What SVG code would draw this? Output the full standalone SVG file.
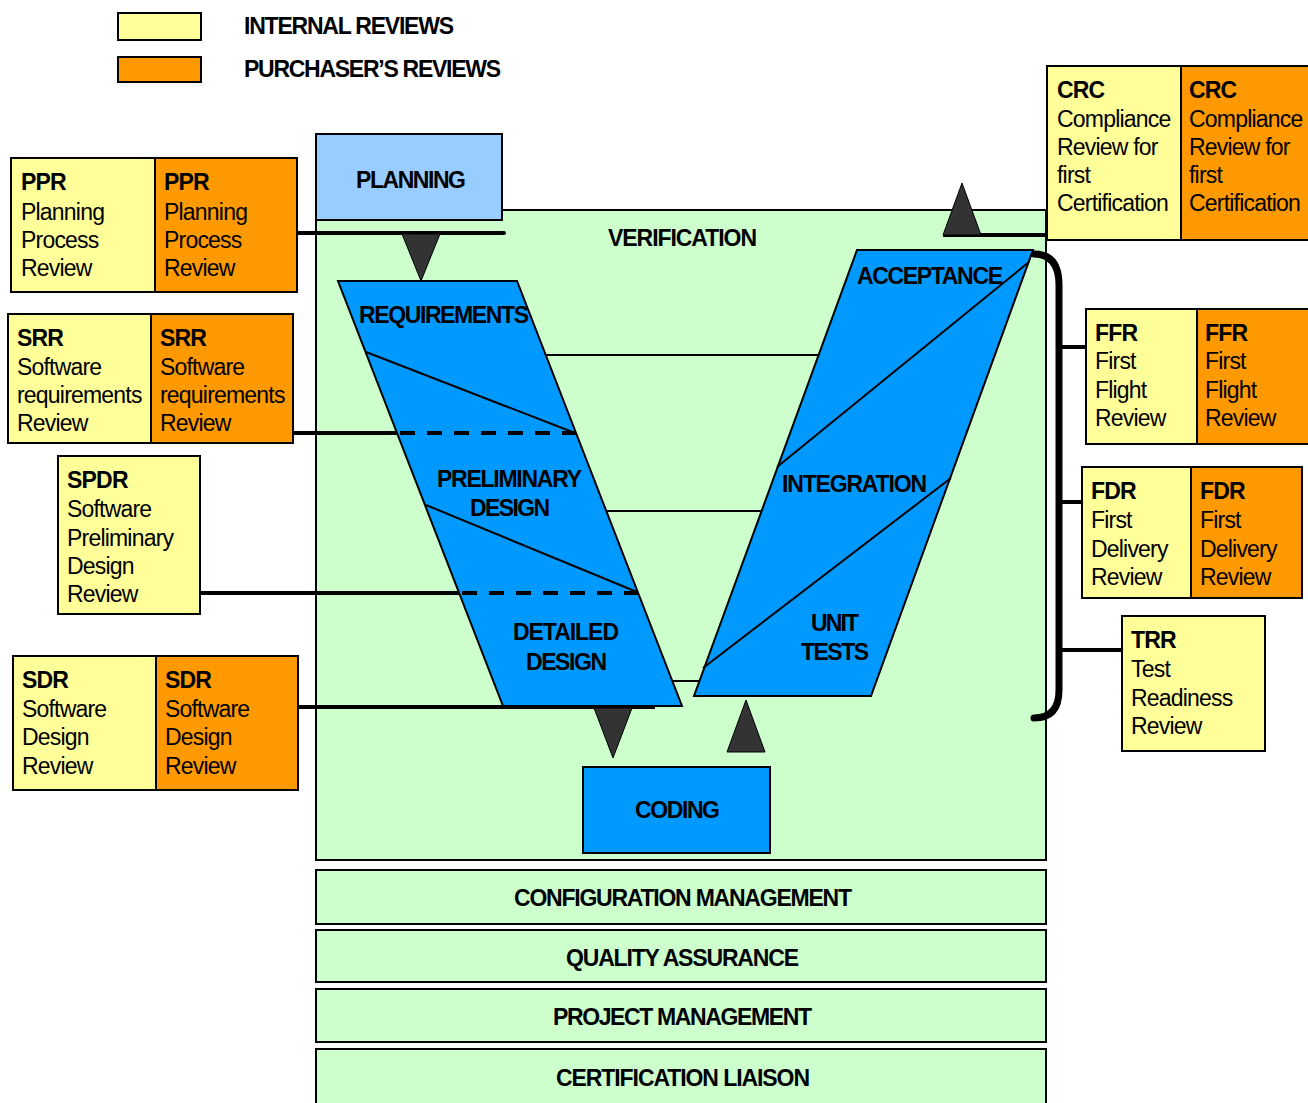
<svg xmlns="http://www.w3.org/2000/svg" width="1308" height="1103" viewBox="0 0 1308 1103">
  <style>
    .t { font-family: "Liberation Sans", Arial, sans-serif; font-size: 23px; letter-spacing: -0.8px; fill: #000; }
    .b { font-weight: bold; }
    .h { font-family: "Liberation Sans", Arial, sans-serif; font-size: 23px; font-weight: bold; fill: #000; }
    .int { fill: #FFFF99; stroke: #000; stroke-width: 2; }
    .pur { fill: #FF9900; stroke: #000; stroke-width: 2; }
    .phase { fill: #0099FF; stroke: #000; stroke-width: 2; }
    .band { fill: #CCFFCC; stroke: #000; stroke-width: 2; }
    .thin { stroke: #000; stroke-width: 2; fill: none; }
    .thick { stroke: #000; stroke-width: 4; fill: none; }
    .dash { stroke: #000; stroke-width: 4; fill: none; stroke-dasharray: 15 12; }
    .tri { fill: #333333; stroke: #000; stroke-width: 1; }
  </style>

  <!-- legend -->
  <g id="legend">
    <rect class="int" x="118" y="13" width="83" height="27"/>
    <rect class="pur" x="118" y="57" width="83" height="25"/>
    <text class="h" x="244" y="34" textLength="210" lengthAdjust="spacing">INTERNAL REVIEWS</text>
    <text class="h" x="244" y="77" textLength="257" lengthAdjust="spacing">PURCHASER’S REVIEWS</text>
  </g>

  <!-- verification area -->
  <g id="verification">
    <rect class="band" x="316" y="210" width="730" height="650"/>
    <text class="h" x="608" y="246" textLength="149" lengthAdjust="spacing">VERIFICATION</text>
  </g>

  <!-- supporting processes -->
  <g id="configuration-management">
    <rect class="band" x="316" y="870" width="730" height="54"/>
    <text class="h" x="514" y="906" textLength="338" lengthAdjust="spacing">CONFIGURATION MANAGEMENT</text>
  </g>
  <g id="quality-assurance">
    <rect class="band" x="316" y="930" width="730" height="52"/>
    <text class="h" x="566" y="966" textLength="233" lengthAdjust="spacing">QUALITY ASSURANCE</text>
  </g>
  <g id="project-management">
    <rect class="band" x="316" y="989" width="730" height="53"/>
    <text class="h" x="553" y="1025" textLength="259" lengthAdjust="spacing">PROJECT MANAGEMENT</text>
  </g>
  <g id="certification-liaison">
    <rect class="band" x="316" y="1049" width="730" height="60"/>
    <text class="h" x="556" y="1086" textLength="254" lengthAdjust="spacing">CERTIFICATION LIAISON</text>
  </g>

  <!-- planning -->
  <g id="planning">
    <rect x="316" y="134" width="186" height="86" fill="#99CCFF" stroke="#000" stroke-width="2"/>
    <text class="h" x="356" y="188" textLength="110" lengthAdjust="spacing">PLANNING</text>
  </g>

  <!-- connectors -->
  <g id="connectors">
    <!-- rungs between the two arms -->
    <line class="thin" x1="545" y1="355" x2="819" y2="355"/>
    <line class="thin" x1="606" y1="511" x2="762" y2="511"/>
    <line class="thin" x1="672" y1="681" x2="700" y2="681"/>
    <!-- review milestones, left side -->
    <line class="thick" x1="297" y1="233" x2="504" y2="233" stroke-linecap="round"/>
    <line class="thick" x1="293" y1="433" x2="398" y2="433"/>
    <line class="thick" x1="200" y1="593" x2="460" y2="593" stroke-linecap="round"/>
    <line class="thick" x1="298" y1="707" x2="655" y2="707"/>
    <!-- review milestones, right side -->
    <line class="thick" x1="943" y1="235" x2="1047" y2="235"/>
    <path d="M1034,254 Q1059,254 1059,285 L1059,690 Q1059,718 1034,718" stroke="#000" stroke-width="7" fill="none" stroke-linecap="round"/>
    <line class="thick" x1="1059" y1="347" x2="1086" y2="347"/>
    <line class="thick" x1="1059" y1="502" x2="1082" y2="502"/>
    <line class="thick" x1="1059" y1="650" x2="1122" y2="650"/>
  </g>

  <!-- left arm: requirements / preliminary design / detailed design -->
  <g id="left-arm">
    <polygon class="phase" points="338,281 517,281 682,706 503,706"/>
    <line class="thin" x1="366" y1="352" x2="575" y2="433"/>
    <line class="thin" x1="426" y1="505" x2="637" y2="592"/>
    <line class="dash" x1="400" y1="433" x2="576" y2="433"/>
    <line class="dash" x1="462" y1="593" x2="638" y2="593"/>
    <text class="h" x="359" y="323" textLength="170" lengthAdjust="spacing">REQUIREMENTS</text>
    <text class="h" x="437" y="487" textLength="145" lengthAdjust="spacing">PRELIMINARY</text>
    <text class="h" x="470" y="516" textLength="80" lengthAdjust="spacing">DESIGN</text>
    <text class="h" x="513" y="640" textLength="106" lengthAdjust="spacing">DETAILED</text>
    <text class="h" x="526" y="670" textLength="81" lengthAdjust="spacing">DESIGN</text>
  </g>

  <!-- right arm: unit tests / integration / acceptance -->
  <g id="right-arm">
    <polygon class="phase" points="857,250 1033,250 871,696 694,696"/>
    <line class="thin" x1="777" y1="467" x2="1029" y2="262"/>
    <line class="thin" x1="703" y1="668" x2="951" y2="478"/>
    <text class="h" x="857" y="284" textLength="146" lengthAdjust="spacing">ACCEPTANCE</text>
    <text class="h" x="782" y="492" textLength="145" lengthAdjust="spacing">INTEGRATION</text>
    <text class="h" x="811" y="631" textLength="48" lengthAdjust="spacing">UNIT</text>
    <text class="h" x="801" y="660" textLength="68" lengthAdjust="spacing">TESTS</text>
  </g>

  <!-- coding -->
  <g id="coding">
    <rect class="phase" x="583" y="767" width="187" height="86"/>
    <text class="h" x="635" y="818" textLength="85" lengthAdjust="spacing">CODING</text>
  </g>

  <!-- flow arrows -->
  <g id="flow-arrows">
    <polygon class="tri" points="402,234 440,234 421,281"/>
    <polygon class="tri" points="594,708 632,708 613,758"/>
    <polygon class="tri" points="727,752 765,752 746,700"/>
    <polygon class="tri" points="943,235 981,235 962,183"/>
  </g>

  <!-- reviews -->
  <g id="ppr">
    <rect class="int" x="11" y="158" width="144" height="134"/>
    <rect class="pur" x="155" y="158" width="142" height="134"/>
    <text class="t b" x="21" y="190">PPR</text>
    <text class="t" x="21" y="220">Planning</text>
    <text class="t" x="21" y="248">Process</text>
    <text class="t" x="21" y="276">Review</text>
    <text class="t b" x="164" y="190">PPR</text>
    <text class="t" x="164" y="220">Planning</text>
    <text class="t" x="164" y="248">Process</text>
    <text class="t" x="164" y="276">Review</text>
  </g>

  <g id="srr">
    <rect class="int" x="8" y="314" width="143" height="129"/>
    <rect class="pur" x="151" y="314" width="142" height="129"/>
    <text class="t b" x="17" y="346">SRR</text>
    <text class="t" x="17" y="375">Software</text>
    <text class="t" x="17" y="403">requirements</text>
    <text class="t" x="17" y="431">Review</text>
    <text class="t b" x="160" y="346">SRR</text>
    <text class="t" x="160" y="375">Software</text>
    <text class="t" x="160" y="403">requirements</text>
    <text class="t" x="160" y="431">Review</text>
  </g>

  <g id="spdr">
    <rect class="int" x="58" y="456" width="142" height="158"/>
    <text class="t b" x="67" y="488">SPDR</text>
    <text class="t" x="67" y="517">Software</text>
    <text class="t" x="67" y="546">Preliminary</text>
    <text class="t" x="67" y="574">Design</text>
    <text class="t" x="67" y="602">Review</text>
  </g>

  <g id="sdr">
    <rect class="int" x="13" y="656" width="143" height="134"/>
    <rect class="pur" x="156" y="656" width="142" height="134"/>
    <text class="t b" x="22" y="688">SDR</text>
    <text class="t" x="22" y="717">Software</text>
    <text class="t" x="22" y="745">Design</text>
    <text class="t" x="22" y="774">Review</text>
    <text class="t b" x="165" y="688">SDR</text>
    <text class="t" x="165" y="717">Software</text>
    <text class="t" x="165" y="745">Design</text>
    <text class="t" x="165" y="774">Review</text>
  </g>

  <g id="crc">
    <rect class="int" x="1047" y="66" width="134" height="174"/>
    <rect class="pur" x="1181" y="66" width="130" height="174"/>
    <text class="t b" x="1057" y="98">CRC</text>
    <text class="t" x="1057" y="127">Compliance</text>
    <text class="t" x="1057" y="155">Review for</text>
    <text class="t" x="1057" y="183">first</text>
    <text class="t" x="1057" y="211">Certification</text>
    <text class="t b" x="1189" y="98">CRC</text>
    <text class="t" x="1189" y="127">Compliance</text>
    <text class="t" x="1189" y="155">Review for</text>
    <text class="t" x="1189" y="183">first</text>
    <text class="t" x="1189" y="211">Certification</text>
  </g>

  <g id="ffr">
    <rect class="int" x="1086" y="309" width="111" height="135"/>
    <rect class="pur" x="1197" y="309" width="114" height="135"/>
    <text class="t b" x="1095" y="341">FFR</text>
    <text class="t" x="1095" y="369">First</text>
    <text class="t" x="1095" y="398">Flight</text>
    <text class="t" x="1095" y="426">Review</text>
    <text class="t b" x="1205" y="341">FFR</text>
    <text class="t" x="1205" y="369">First</text>
    <text class="t" x="1205" y="398">Flight</text>
    <text class="t" x="1205" y="426">Review</text>
  </g>

  <g id="fdr">
    <rect class="int" x="1082" y="467" width="109" height="131"/>
    <rect class="pur" x="1191" y="467" width="111" height="131"/>
    <text class="t b" x="1091" y="499">FDR</text>
    <text class="t" x="1091" y="528">First</text>
    <text class="t" x="1091" y="557">Delivery</text>
    <text class="t" x="1091" y="585">Review</text>
    <text class="t b" x="1200" y="499">FDR</text>
    <text class="t" x="1200" y="528">First</text>
    <text class="t" x="1200" y="557">Delivery</text>
    <text class="t" x="1200" y="585">Review</text>
  </g>

  <g id="trr">
    <rect class="int" x="1122" y="616" width="143" height="135"/>
    <text class="t b" x="1131" y="648">TRR</text>
    <text class="t" x="1131" y="677">Test</text>
    <text class="t" x="1131" y="706">Readiness</text>
    <text class="t" x="1131" y="734">Review</text>
  </g>
</svg>
